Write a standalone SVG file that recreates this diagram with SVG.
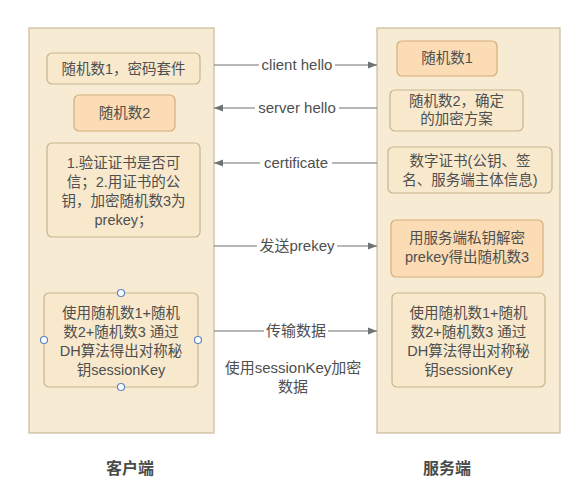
<svg xmlns="http://www.w3.org/2000/svg" width="583" height="500" viewBox="0 0 583 500">
<defs>
<style>
.col{fill:#f7ebd3;stroke:#c9bb9a;stroke-width:1.2}
.box{fill:#f8e9cd;stroke:#c7b58f;stroke-width:1.2}
.obox{fill:#fbdcb4;stroke:#d3ae7c;stroke-width:1.2}
.t{font-family:"Liberation Sans","Noto Sans CJK SC",sans-serif;font-size:14.5px;fill:#4f4f4f;text-anchor:middle}
.lbl{font-family:"Liberation Sans","Noto Sans CJK SC",sans-serif;font-size:15px;fill:#4f4f4f;text-anchor:middle}
.title{font-family:"Liberation Sans","Noto Sans CJK SC",sans-serif;font-size:16px;font-weight:bold;fill:#4a4a4a;text-anchor:middle}
.ln{stroke:#6f7373;stroke-width:1.2;fill:none;marker-end:url(#ah)}
.h{fill:#ffffff;stroke:#5b87c0;stroke-width:1.2}
</style>
<marker id="ah" viewBox="0 0 10 10" refX="10" refY="5" markerWidth="9" markerHeight="9" markerUnits="userSpaceOnUse" orient="auto">
<path d="M0,1 L10,5 L0,9 Z" fill="#6f7373"/>
</marker>
</defs>
<rect width="583" height="500" fill="#ffffff"/>

<g id="client">
<rect class="col" x="29" y="28" width="185" height="405"/>
<text class="title" x="130" y="474">客户端</text>
</g>
<g id="server">
<rect class="col" x="377" y="28" width="183" height="405"/>
<text class="title" x="447" y="474">服务端</text>
</g>

<g id="c1"><rect class="box" x="47" y="53" width="153" height="31" rx="5"/><text class="t" x="123.5" y="74">随机数1，密码套件</text></g>
<g id="c2"><rect class="obox" x="74" y="95" width="101" height="36" rx="5"/><text class="t" x="124.5" y="118">随机数2</text></g>
<g id="c3"><rect class="box" x="47" y="143" width="153" height="94" rx="5"/>
<text class="t" x="123.5" y="168">1.验证证书是否可</text>
<text class="t" x="123.5" y="187">信；2.用证书的公</text>
<text class="t" x="123.5" y="206">钥，加密随机数3为</text>
<text class="t" x="123.5" y="225">prekey；</text></g>
<g id="c4"><rect class="box" x="44" y="293" width="154" height="94" rx="5"/>
<text class="t" x="121" y="318">使用随机数1+随机</text>
<text class="t" x="121" y="337">数2+随机数3 通过</text>
<text class="t" x="121" y="356">DH算法得出对称秘</text>
<text class="t" x="121" y="375">钥sessionKey</text>
<circle class="h" cx="121" cy="293" r="3.5"/>
<circle class="h" cx="44" cy="340" r="3.5"/>
<circle class="h" cx="198" cy="340" r="3.5"/>
<circle class="h" cx="121" cy="387" r="3.5"/>
</g>

<g id="s1"><rect class="obox" x="397" y="41" width="100" height="35" rx="5"/><text class="t" x="447" y="63">随机数1</text></g>
<g id="s2"><rect class="box" x="390" y="90" width="133" height="41" rx="5"/>
<text class="t" x="456.5" y="106">随机数2，确定</text>
<text class="t" x="456.5" y="124">的加密方案</text></g>
<g id="s3"><rect class="box" x="388" y="147" width="164" height="46" rx="5"/>
<text class="t" x="470" y="166">数字证书(公钥、签</text>
<text class="t" x="470" y="185">名、服务端主体信息)</text></g>
<g id="s4"><rect class="obox" x="391" y="220" width="152" height="57" rx="5"/>
<text class="t" x="467" y="243">用服务端私钥解密</text>
<text class="t" x="467" y="262">prekey得出随机数3</text></g>
<g id="s5"><rect class="box" x="392" y="293" width="153" height="94" rx="5"/>
<text class="t" x="468.5" y="318">使用随机数1+随机</text>
<text class="t" x="468.5" y="337">数2+随机数3 通过</text>
<text class="t" x="468.5" y="356">DH算法得出对称秘</text>
<text class="t" x="468.5" y="375">钥sessionKey</text></g>

<g id="connectors">
<path class="ln" d="M214,65 L377,65"/>
<path class="ln" d="M377,108 L214,108"/>
<path class="ln" d="M377,163 L214,163"/>
<path class="ln" d="M214,246 L377,246"/>
<path class="ln" d="M214,331 L377,331"/>
<rect x="259" y="56" width="76" height="18" fill="#ffffff"/>
<text class="lbl" x="297" y="70">client hello</text>
<rect x="255" y="99" width="84" height="18" fill="#ffffff"/>
<text class="lbl" x="297" y="113">server hello</text>
<rect x="260" y="154" width="72" height="18" fill="#ffffff"/>
<text class="lbl" x="296" y="168">certificate</text>
<rect x="257" y="237" width="80" height="18" fill="#ffffff"/>
<text class="lbl" x="297" y="251">发送prekey</text>
<rect x="264" y="322" width="64" height="18" fill="#ffffff"/>
<text class="lbl" x="296" y="336">传输数据</text>
<text class="lbl" x="293" y="373">使用sessionKey加密</text>
<text class="lbl" x="293" y="392">数据</text>
</g>
</svg>
